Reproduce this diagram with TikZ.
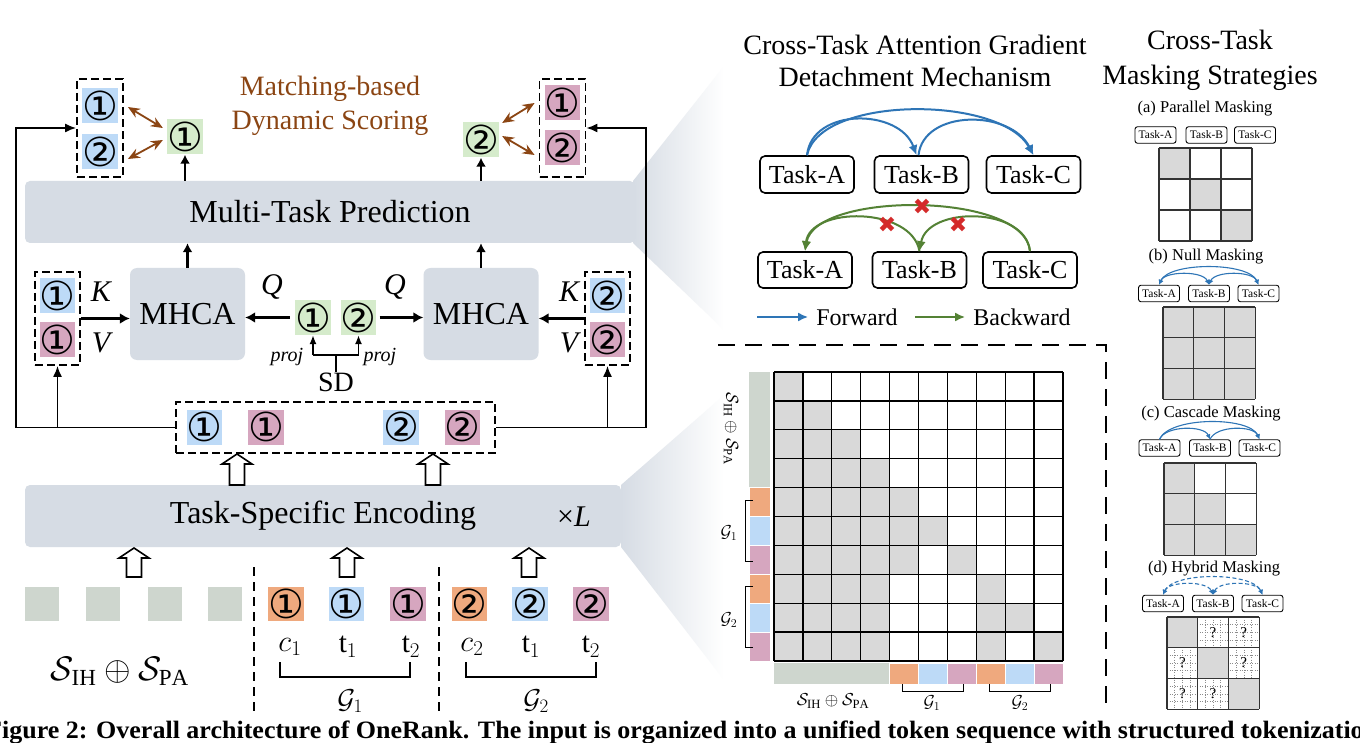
\documentclass[tikz,border=0pt]{standalone}
\usepackage{fontspec}
\setmainfont{Liberation Serif}
\newfontfamily\cfont{DejaVu Sans}
\usetikzlibrary{arrows.meta,calc}
\definecolor{barc}{HTML}{D6DCE4}
\definecolor{tblue}{HTML}{BDDAF7}
\definecolor{tpink}{HTML}{D6A6BF}
\definecolor{torange}{HTML}{EFA97E}
\definecolor{tgreen}{HTML}{D5EBCB}
\definecolor{tgray}{HTML}{CED6CE}
\definecolor{cgray}{HTML}{D9D9D9}
\definecolor{brownc}{HTML}{8B4513}
\definecolor{fwd}{HTML}{2E75B6}
\definecolor{bwd}{HTML}{548235}
\definecolor{xred}{HTML}{D42A2A}
\newcommand{\blockup}[3]{\draw[line width=1.6pt, fill=white, line join=miter]
  ({#1-7.5},#3) -- ({#1-7.5},{#2+10}) -- ({#1-15},{#2+10}) -- (#1,#2) -- ({#1+15},{#2+10}) -- ({#1+7.5},{#2+10}) -- ({#1+7.5},#3) -- cycle;}
\tikzset{
  bar/.style={fill=barc, rounded corners=5pt, inner sep=0pt, font=\fontsize{32}{32}\selectfont},
  tok/.style={minimum width=35pt, minimum height=35pt, inner sep=0pt, font=\cfont\fontsize{40}{40}\selectfont},
  dbox/.style={draw, line width=1.8pt, dash pattern=on 8pt off 4pt},
  ln/.style={line width=1.6pt},
  tarr/.style={line width=1.6pt, -{Latex[length=11pt,width=9pt]}},
  parr/.style={line width=1.4pt, -{Latex[length=9pt,width=7pt]}},
  karr/.style={line width=3pt, -{Latex[length=10pt,width=11pt]}},
  marr/.style={line width=2.2pt, -{Latex[length=9pt,width=10pt]}},
  brarr/.style={draw=brownc, line width=1.8pt, {Stealth[length=12pt,width=10pt]}-{Stealth[length=12pt,width=10pt]}},
  lab/.style={inner sep=0pt, font=\fontsize{30}{30}\selectfont\itshape},
  mlab/.style={inner sep=0pt, font=\fontsize{24}{24}\selectfont, scale=1.22},
  taskbox/.style={draw, line width=1.6pt, rounded corners=5pt, minimum width=94pt, minimum height=37pt, inner sep=0pt, font=\fontsize{26}{26}\selectfont},
  farr/.style={draw=fwd, line width=2pt, -{Latex[length=10pt,width=9pt]}},
  barr/.style={draw=bwd, line width=2pt, -{Latex[length=10pt,width=9pt]}},
  xm/.style={inner sep=0pt, text=xred, font=\cfont\fontsize{22}{22}\selectfont},
  stask/.style={draw, line width=0.9pt, rounded corners=2.5pt, minimum width=41pt, minimum height=16.5pt, inner sep=0pt, font=\fontsize{11.5}{11.5}\selectfont},
  sarr/.style={draw=fwd, line width=1.1pt, -{Latex[length=5pt,width=5pt]}},
  sbi/.style={draw=fwd, line width=1.1pt, {Latex[length=5pt,width=5pt]}-{Latex[length=5pt,width=5pt]}},
  sub/.style={inner sep=0pt, font=\fontsize{16.5}{16.5}\selectfont},
  gl/.style={line width=1.2pt, draw=black!80},
  ml/.style={inner sep=0pt, font=\fontsize{18}{18}\selectfont},
}
\begin{document}
\begin{tikzpicture}[x=1pt,y=-1pt]
\useasboundingbox (0,0) rectangle (1360,743);
\clip (0,0) rectangle (1360,743);
\fill[white] (0,0) rectangle (1360,743);

% zoom funnels
\shade[left color=barc, right color=white] (633,181) -- (724,66) -- (724,330) -- (633,243) -- cycle;
\shade[left color=barc, right color=white] (621,485) -- (724,395) -- (724,680) -- (621,547) -- cycle;

% ---------- left panel ----------
\node[bar, minimum width=610pt, minimum height=62pt] (mtp) at (330,212) {Multi-Task Prediction};
\node[bar, minimum width=596pt, minimum height=62pt] (tse) at (323,516) {Task-Specific Encoding};
\node[inner sep=0pt, font=\fontsize{30}{30}\selectfont] (xl) at (574,517) {×\textit{L}};

% top tokens
\node[dbox, minimum width=46pt, minimum height=98pt] (tlbox) at (100,128) {};
\node[tok, fill=tblue, minimum width=34pt] (tl1) at (100,105.5) {①};
\node[tok, fill=tblue, minimum width=34pt] (tl2) at (100,152) {②};
\node[tok, fill=tgreen] (g1) at (185,137) {①};
\node[dbox, minimum width=46pt, minimum height=98pt] (trbox) at (562.5,128) {};
\node[tok, fill=tpink, minimum width=34pt] (tr1) at (562.5,102.5) {①};
\node[tok, fill=tpink, minimum width=34pt] (tr2) at (562.5,148) {②};
\node[tok, fill=tgreen] (g2) at (481,140) {②};
\node[inner sep=0pt, align=center, text=brownc, font=\fontsize{28}{34}\selectfont] (msc) at (330,106) {Matching-based\\Dynamic Scoring};

\draw[brarr] ($(tlbox.east)+(4,-21)$) -- ($(g1.west)+(-4,-9)$);
\draw[brarr] ($(tlbox.east)+(4,31)$) -- ($(g1.west)+(-4,3)$);
\draw[brarr] ($(g2.east)+(3,-17)$) -- ($(trbox.west)+(-4,-25)$);
\draw[brarr] ($(g2.east)+(3,-4)$) -- ($(trbox.west)+(-4,27)$);
\draw[marr] (g1 |- mtp.north) -- (g1.south);
\draw[marr] (g2 |- mtp.north) -- (g2.south);

% middle
\node[bar, minimum width=115pt, minimum height=92pt, rounded corners=7pt] (mhL) at (187.5,314) {MHCA};
\node[bar, minimum width=115pt, minimum height=92pt, rounded corners=7pt] (mhR) at (481,314) {MHCA};
\node[dbox, minimum width=45pt, minimum height=93pt] (kvL) at (57.5,318.5) {};
\node[tok, fill=tblue] (kl1) at (57.5,295.5) {①};
\node[tok, fill=tpink] (kl2) at (57.5,339.5) {①};
\node[dbox, minimum width=45pt, minimum height=93pt] (kvR) at (607.5,318.5) {};
\node[tok, fill=tblue] (kr1) at (607.5,295.5) {②};
\node[tok, fill=tpink] (kr2) at (607.5,339.5) {②};
\node[lab] (kL) at (101,292) {K};
\node[lab] (vL) at (101,343) {V};
\node[lab] (kR) at (569,292) {K};
\node[lab] (vR) at (569,343) {V};
\node[tok, fill=tgreen, minimum width=34pt] (q1) at (313,317.5) {①};
\node[tok, fill=tgreen] (q2) at (358.5,317.5) {②};
\node[lab] (qL) at (272,287) {Q};
\node[lab] (qR) at (395,287) {Q};

\draw[karr] (kvL.east) -- (kvL.east -| mhL.west);
\draw[karr, shorten <=5pt] (q1.west) -- (q1.west -| mhL.east);
\draw[karr, shorten <=3pt] (q2.east) -- (q2.east -| mhR.west);
\draw[karr] (kvR.west) -- (kvR.west -| mhR.east);
\draw[marr] (mhL.north) -- (mhL.north |- mtp.south);
\draw[marr] (mhR.north) -- (mhR.north |- mtp.south);

\coordinate (sd) at (336,355);
\node[inner sep=0pt, font=\fontsize{28}{28}\selectfont] (sdl) at (336,382) {SD};
\draw[parr] (q1 |- sd) -- (q1.south);
\draw[parr] (q2 |- sd) -- (q2.south);
\draw[line width=1.4pt] (q1 |- sd) -- (q2 |- sd);
\draw[line width=1.4pt] (sd) -- (sd |- sdl.north);
\node[inner sep=0pt, font=\fontsize{20}{20}\selectfont\itshape] (pj1) at (287,357) {proj};
\node[inner sep=0pt, font=\fontsize{20}{20}\selectfont\itshape] (pj2) at (380,357) {proj};

\node[dbox, minimum width=319pt, minimum height=51pt] (mid) at (335.5,427.5) {};
\node[tok, fill=tblue] (m1) at (204.5,427) {①};
\node[tok, fill=tpink] (m2) at (266,427) {①};
\node[tok, fill=tblue] (m3) at (401,427) {②};
\node[tok, fill=tpink] (m4) at (462.5,427) {②};

\coordinate (cl) at (16,427.5);
\coordinate (cr) at (646,427.5);
\draw[tarr] (mid.west) -- (cl) |- (tlbox.west);
\draw[tarr] (mid.east) -- (cr) |- (trbox.east);
\draw[tarr] (kvL |- mid.west) -- (kvL.south);
\draw[tarr] (kvR |- mid.east) -- (kvR.south);

% hollow block arrows
\blockup{237}{454}{485}
\blockup{433}{454}{485}
\blockup{134}{548}{577}
\blockup{347}{548}{577}
\blockup{529}{548}{577}

% bottom tokens
\foreach \n/\x in {s1/42,s2/102.5,s3/164.5,s4/225}
  \node[tok, fill=tgray, minimum width=34pt, minimum height=34pt] (\n) at (\x,604) {};
\node[tok, fill=torange, minimum height=34pt] (o1) at (286,604) {①};
\node[tok, fill=tblue, minimum height=34pt] (b1) at (346.5,604) {①};
\node[tok, fill=tpink, minimum height=34pt] (p1) at (408,604) {①};
\node[tok, fill=torange, minimum height=34pt] (o2) at (469.5,604) {②};
\node[tok, fill=tblue, minimum height=34pt] (b2) at (530,604) {②};
\node[tok, fill=tpink, minimum height=34pt] (p2) at (591,604) {②};

\draw[line width=1.6pt, dash pattern=on 9pt off 6pt] (254,567) -- (254,716);
\draw[line width=1.6pt, dash pattern=on 9pt off 6pt] (439,567) -- (439,716);

\node[mlab] (lc1) at (290,647) {$c_1$};
\node[mlab] (lt1) at (348,647) {$\mathrm{t}_1$};
\node[mlab] (lt2) at (411,647) {$\mathrm{t}_2$};
\node[mlab] (lc2) at (472,647) {$c_2$};
\node[mlab] (lt3) at (531,647) {$\mathrm{t}_1$};
\node[mlab] (lt4) at (591,647) {$\mathrm{t}_2$};
\draw[ln] (280,662) -- (280,677) -- (410,677) -- (410,662);
\draw[ln] (466,662) -- (466,677) -- (596,677) -- (596,662);
\node[mlab, scale=0.9] (lg1) at (350,701) {$\mathcal{G}_1$};
\node[mlab, scale=0.9] (lg2) at (536,701) {$\mathcal{G}_2$};
\node[inner sep=0pt, font=\fontsize{24}{24}\selectfont, scale=1.37] (lsp) at (120,671) {$\mathcal{S}_{\mathrm{IH}}\oplus\mathcal{S}_{\mathrm{PA}}$};

% ---------- right top: gradient detachment ----------
\node[inner sep=0pt, align=center, font=\fontsize{28}{32}\selectfont] (ttl1) at (915,61) {Cross-Task Attention Gradient\\Detachment Mechanism};
\node[taskbox] (tA) at (807,174.5) {Task-A};
\node[taskbox] (tB) at (921.5,174.5) {Task-B};
\node[taskbox] (tC) at (1033.5,174.5) {Task-C};
\node[taskbox, minimum height=36pt] (bA) at (805,270) {Task-A};
\node[taskbox, minimum height=36pt] (bB) at (919.5,270) {Task-B};
\node[taskbox, minimum height=36pt] (bC) at (1030,270) {Task-C};

\draw[farr] (tA.north) .. controls +(5,-48) and +(-17,-47) .. ($(tB.north)+(-5,0)$);
\draw[farr] (tA.north) .. controls +(13,-60) and +(-33,-60) .. (tC.north);
\draw[farr] ($(tB.north)+(-3,0)$) .. controls +(5,-46) and +(-23,-46) .. (tC.north);

\draw[barr] (bC.north) .. controls +(-5,-60) and +(10,-60) .. (bA.north);
\draw[barr] (bC.north) .. controls +(-5,-45) and +(8,-45) .. (bB.north);
\draw[barr] (bB.north) .. controls +(-8,-45) and +(5,-45) .. (bA.north);
\node[xm] (x1) at (922,207) {✖};
\node[xm] (x2) at (887,225) {✖};
\node[xm] (x3) at (958,225) {✖};

\coordinate (lf) at (757,317);
\coordinate (lb) at (915,317);
\node[inner sep=0pt, font=\fontsize{24}{24}\selectfont] (fw) at (857,317) {Forward};
\node[inner sep=0pt, font=\fontsize{24}{24}\selectfont] (bw) at (1022,317) {Backward};
\draw[farr] (lf) -- ($(fw.west)+(-8,0)$);
\draw[barr] (lb) -- ($(bw.west)+(-8,0)$);

% ---------- matrix panel ----------
\draw[line width=2.4pt, dash pattern=on 17pt off 10pt] (718,345) -- (1106,345) -- (1106,705);
\foreach \r/\cols in {0/{0},1/{0,1},2/{0,1,2},3/{0,1,2,3},4/{0,1,2,3,4},5/{0,1,2,3,4,5},6/{0,1,2,3,4,6},7/{0,1,2,3,7},8/{0,1,2,3,7,8},9/{0,1,2,3,7,9}}
  {\foreach \c in \cols {\fill[cgray] ({774+\c*28.9},{372+\r*28.9}) rectangle +(28.9,28.9);}}
\foreach \i in {0,...,10} {
  \draw[line width=1.3pt] ({774+\i*28.9},372) -- ({774+\i*28.9},661);
  \draw[line width=1.3pt] (774,{372+\i*28.9}) -- (1063,{372+\i*28.9});
}
\fill[tgray] (749,372) rectangle (770,487.6);
\fill[tgray] (774,663) rectangle (889.6,684);
\foreach \k/\cc in {0/torange,1/tblue,2/tpink,3/torange,4/tblue,5/tpink} {
  \fill[\cc, draw=white, line width=1pt] (749,{487.6+\k*28.9}) rectangle (770,{487.6+(\k+1)*28.9});
  \fill[\cc, draw=white, line width=1pt] ({889.6+\k*28.9},663) rectangle ({889.6+(\k+1)*28.9},684);
}
\draw[line width=1pt] (753,500) -- (745,500) -- (745,561) -- (753,561);
\draw[line width=1pt] (753,586) -- (745,586) -- (745,647) -- (753,647);
\draw[line width=1pt] (902,684) -- (902,691) -- (963,691) -- (963,684);
\draw[line width=1pt] (989,684) -- (989,691) -- (1050,691) -- (1050,684);
\node[ml, rotate=-90] (mls) at (731,429) {$\mathcal{S}_{\mathrm{IH}}\oplus\mathcal{S}_{\mathrm{PA}}$};
\node[ml] (mlg1) at (729,533) {$\mathcal{G}_1$};
\node[ml] (mlg2) at (729,620) {$\mathcal{G}_2$};
\node[ml] (mbs) at (833,701) {$\mathcal{S}_{\mathrm{IH}}\oplus\mathcal{S}_{\mathrm{PA}}$};
\node[ml] (mbg1) at (932,703) {$\mathcal{G}_1$};
\node[ml] (mbg2) at (1020,703) {$\mathcal{G}_2$};

% ---------- right column: masking strategies ----------
\node[inner sep=0pt, align=center, font=\fontsize{28}{35}\selectfont] (ttl2) at (1210,60) {Cross-Task\\Masking Strategies};

% (a)
\node[sub] (la) at (1205,109) {(a) Parallel Masking};
\node[stask] (aA) at (1155.5,135) {Task-A};
\node[stask] (aB) at (1206.5,135) {Task-B};
\node[stask] (aC) at (1255,135) {Task-C};
\foreach \i in {0,1,2} \fill[cgray] ({1159+\i*31},{148+\i*31}) rectangle +(31,31);
\foreach \i in {0,...,3} {\draw[gl] ({1159+\i*31},148) -- ++(0,93); \draw[gl] (1159,{148+\i*31}) -- ++(93,0);}

% (b)
\node[sub] (lb2) at (1206,257) {(b) Null Masking};
\node[stask] (nA) at (1159,293.5) {Task-A};
\node[stask] (nB) at (1209,293.5) {Task-B};
\node[stask] (nC) at (1258.5,293.5) {Task-C};
\draw[sbi] (nA.north) .. controls +(10,-23) and +(-10,-23) .. (nC.north);
\draw[sbi] (nA.north) .. controls +(6,-14) and +(-6,-14) .. (nB.north);
\draw[sbi] (nB.north) .. controls +(6,-14) and +(-6,-14) .. (nC.north);
\fill[cgray] (1163,307) rectangle +(92.1,92.1);
\foreach \i in {0,...,3} {\draw[gl] ({1163+\i*30.7},307) -- ++(0,92.1); \draw[gl] (1163,{307+\i*30.7}) -- ++(92.1,0);}

% (c)
\node[sub] (lc) at (1211,414) {(c) Cascade Masking};
\node[stask] (cA) at (1159.5,448) {Task-A};
\node[stask] (cB) at (1210,448) {Task-B};
\node[stask] (cC) at (1259.5,448) {Task-C};
\draw[sarr] (cA.north) .. controls +(10,-23) and +(-10,-23) .. (cC.north);
\draw[sarr] (cA.north) .. controls +(6,-14) and +(-6,-14) .. (cB.north);
\draw[sarr] (cB.north) .. controls +(6,-14) and +(-6,-14) .. (cC.north);
\foreach \r/\c in {0/0,1/0,1/1,2/0,2/1,2/2} \fill[cgray] ({1164+\c*30.7},{463+\r*30.7}) rectangle +(30.7,30.7);
\foreach \i in {0,...,3} {\draw[gl] ({1164+\i*30.7},463) -- ++(0,92.1); \draw[gl] (1164,{463+\i*30.7}) -- ++(92.1,0);}

% (d)
\node[sub] (ld) at (1214,569) {(d) Hybrid Masking};
\node[stask] (dA) at (1163,603.5) {Task-A};
\node[stask] (dB) at (1213,603.5) {Task-B};
\node[stask] (dC) at (1262.5,603.5) {Task-C};
\draw[sbi, dash pattern=on 4pt off 2.5pt] (dA.north) .. controls +(10,-23) and +(-10,-23) .. (dC.north);
\draw[sbi, dash pattern=on 4pt off 2.5pt] (dA.north) .. controls +(6,-14) and +(-6,-14) .. (dB.north);
\draw[sbi, dash pattern=on 4pt off 2.5pt] (dB.north) .. controls +(6,-14) and +(-6,-14) .. (dC.north);
\foreach \i in {1,...,11} {
  \draw[black!45, line width=0.5pt, dotted] ({1167+\i*7.675},617) -- ++(0,92.1);
  \draw[black!45, line width=0.5pt, dotted] (1167,{617+\i*7.675}) -- ++(92.1,0);
}
\foreach \i in {0,1,2} \fill[cgray] ({1167+\i*30.7},{617+\i*30.7}) rectangle +(30.7,30.7);
\foreach \i in {0,...,3} {\draw[gl] ({1167+\i*30.7},617) -- ++(0,92.1); \draw[gl] (1167,{617+\i*30.7}) -- ++(92.1,0);}
\foreach \n/\r/\c in {q01/0/1,q02/0/2,q10/1/0,q12/1/2,q20/2/0,q21/2/1}
  \node[inner sep=0pt, font=\fontsize{15}{15}\selectfont] (\n) at ({1167+\c*30.7+15.35},{617+\r*30.7+15.35}) {?};

% caption (cut off at both sides as in the reference)
\node[anchor=base west, inner sep=0pt, xscale=1.04, font=\bfseries\fontsize{25}{25}\selectfont] (cap) at (-14,738) {Figure 2: Overall architecture of OneRank. The input is organized into a unified token sequence with structured tokenization};
\end{tikzpicture}
\end{document}
